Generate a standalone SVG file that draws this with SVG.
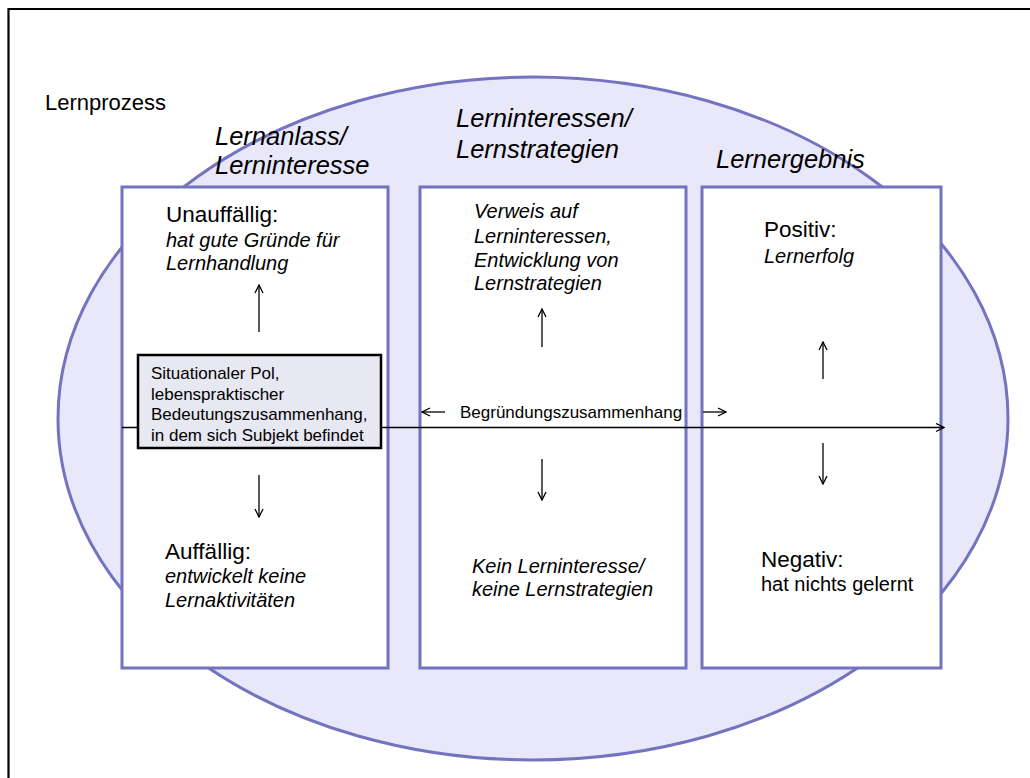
<svg xmlns="http://www.w3.org/2000/svg" width="1030" height="778" viewBox="0 0 1030 778">
<style>
text{font-family:"Liberation Sans",Arial,sans-serif;fill:#000}
.hdr{font-size:25.5px;font-style:italic}
.ttl{font-size:22.5px}
.it{font-size:20px;font-style:italic}
.nm{font-size:20px}
.sm{font-size:17px}
.col{fill:#ffffff;stroke:#7373C0;stroke-width:3}
.arr{stroke:#000;stroke-width:1.3;fill:none;marker-end:url(#ah)}
</style>
<defs>
<marker id="ah" viewBox="0 0 10 10" refX="9" refY="5" markerWidth="10" markerHeight="10" markerUnits="userSpaceOnUse" orient="auto">
<path d="M1,1 L9,5 L1,9" fill="none" stroke="#000" stroke-width="1.3"/>
</marker>
</defs>
<rect width="1030" height="778" fill="#ffffff"/>
<path d="M8.5,778 V9 H1030" fill="none" stroke="#000" stroke-width="2.2"/>
<g id="process">
<ellipse cx="533" cy="418.5" rx="475" ry="341.5" fill="#E8E8FA" stroke="#7373C0" stroke-width="3"/>
<text x="45" y="110" style="font-size:22px">Lernprozess</text>
</g>
<g id="col-lernanlass">
<rect class="col" x="122" y="187" width="266" height="481"/>
<text class="hdr" x="215" y="145">Lernanlass/</text>
<text class="hdr" x="215" y="174">Lerninteresse</text>
<text class="ttl" x="166" y="222">Unauffällig:</text>
<text class="it" x="166" y="247">hat gute Gründe für</text>
<text class="it" x="166" y="270">Lernhandlung</text>
<text class="ttl" x="165" y="559">Auffällig:</text>
<text class="it" x="165" y="583">entwickelt keine</text>
<text class="it" x="165" y="607">Lernaktivitäten</text>
</g>
<g id="col-lerninteressen">
<rect class="col" x="420" y="187" width="266" height="481"/>
<text class="hdr" x="456" y="127">Lerninteressen/</text>
<text class="hdr" x="456" y="158">Lernstrategien</text>
<text class="it" x="474" y="218">Verweis auf</text>
<text class="it" x="474" y="243">Lerninteressen,</text>
<text class="it" x="474" y="267">Entwicklung von</text>
<text class="it" x="474" y="290">Lernstrategien</text>
<text class="it" x="472" y="573">Kein Lerninteresse/</text>
<text class="it" x="472" y="596">keine Lernstrategien</text>
</g>
<g id="col-lernergebnis">
<rect class="col" x="702" y="187" width="239" height="481"/>
<text class="hdr" x="716" y="168">Lernergebnis</text>
<text class="ttl" x="764" y="237">Positiv:</text>
<text class="it" x="764" y="263">Lernerfolg</text>
<text class="ttl" x="761" y="567">Negativ:</text>
<text class="nm" x="761" y="591">hat nichts gelernt</text>
</g>
<g id="connectors">
<line class="arr" x1="122" y1="427.5" x2="944" y2="427.5"/>
<line class="arr" x1="259" y1="332" x2="259" y2="285"/>
<line class="arr" x1="259" y1="475" x2="259" y2="517"/>
<line class="arr" x1="542" y1="347" x2="542" y2="309"/>
<line class="arr" x1="542" y1="459" x2="542" y2="500"/>
<line class="arr" x1="823" y1="379" x2="823" y2="342"/>
<line class="arr" x1="823" y1="443" x2="823" y2="484"/>
<line class="arr" x1="445" y1="412" x2="422" y2="412"/>
<line class="arr" x1="703" y1="412" x2="726" y2="412"/>
<text class="sm" x="460" y="418">Begründungszusammenhang</text>
</g>
<g id="situational-pole">
<rect x="138" y="355" width="243" height="93" fill="#E8E8F2" stroke="#000" stroke-width="2.5"/>
<text class="sm" x="151" y="379">Situationaler Pol,</text>
<text class="sm" x="151" y="399.5">lebenspraktischer</text>
<text class="sm" x="151" y="420">Bedeutungszusammenhang,</text>
<text class="sm" x="151" y="440.5">in dem sich Subjekt befindet</text>
</g>
</svg>
